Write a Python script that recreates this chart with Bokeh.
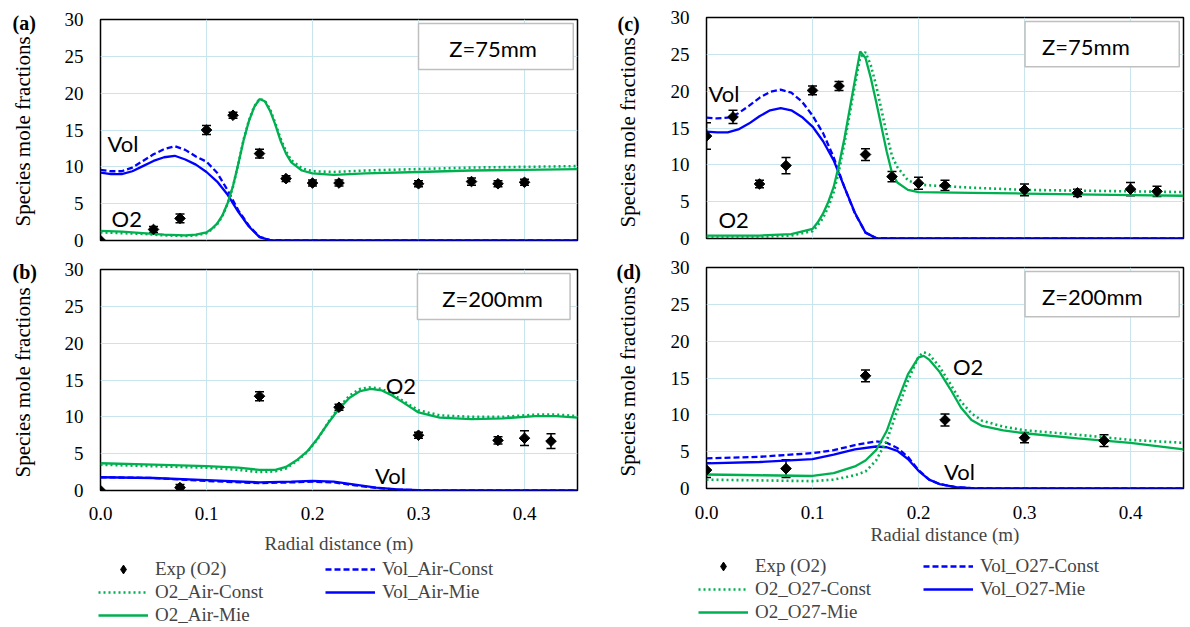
import numpy as np
from bokeh.plotting import figure
from bokeh.layouts import row, column
from bokeh.models import (Range1d, FixedTicker, PrintfTickFormatter, Whisker, TeeHead,
                          ColumnDataSource, Label, BoxAnnotation, Legend, LegendItem)
from bokeh.embed import file_html
from bokeh.resources import INLINE

# ---------------- data ----------------
x_ticks = [0.0, 0.1, 0.2, 0.3, 0.4]
y_ticks = [0, 5, 10, 15, 20, 25, 30]

# Panel (a)  Air, Z=75mm
a_x_vol = [0, 0.01, 0.02, 0.03, 0.04, 0.05, 0.06, 0.07, 0.08, 0.09, 0.10, 0.11, 0.12, 0.13, 0.14, 0.15, 0.16, 0.20, 0.30, 0.45]
a_vol_const = [9.6, 9.4, 9.4, 9.9, 10.8, 11.7, 12.4, 12.8, 12.3, 11.4, 10.7, 9.2, 6.8, 4.1, 2.0, 0.5, 0.05, 0, 0, 0]
a_vol_mie = [9.2, 9.0, 9.0, 9.4, 10.1, 10.8, 11.3, 11.5, 11.0, 10.3, 9.3, 8.0, 6.2, 3.9, 1.9, 0.45, 0.05, 0, 0, 0]
a_x_o2 = [0, 0.02, 0.04, 0.06, 0.08, 0.09, 0.10, 0.105, 0.11, 0.115, 0.12, 0.125, 0.13, 0.135, 0.14, 0.145,
          0.15, 0.155, 0.16, 0.165, 0.17, 0.175, 0.18, 0.19, 0.20, 0.22, 0.25, 0.30, 0.35, 0.40, 0.45]
a_o2_mie = [1.3, 1.2, 1.0, 0.8, 0.7, 0.8, 1.1, 1.6, 2.3, 3.4, 5.1, 7.4, 10.4, 13.6, 16.2, 18.1,
            19.2, 18.9, 17.6, 15.7, 13.5, 11.8, 10.6, 9.5, 9.1, 8.9, 9.1, 9.3, 9.5, 9.6, 9.7]
a_o2_const = [1.1, 1.0, 0.9, 0.7, 0.6, 0.7, 1.0, 1.5, 2.2, 3.3, 5.0, 7.3, 10.4, 13.7, 16.3, 18.2,
              19.2, 19.0, 17.8, 15.9, 13.8, 12.1, 10.9, 9.8, 9.4, 9.3, 9.5, 9.7, 9.9, 10.0, 10.1]
a_exp_x = [0, 0.05, 0.075, 0.1, 0.125, 0.15, 0.175, 0.2, 0.225, 0.3, 0.35, 0.375, 0.4]
a_exp_y = [0, 1.5, 3.0, 15.0, 17.0, 11.8, 8.4, 7.8, 7.8, 7.7, 8.0, 7.7, 7.9]
a_exp_err = [0, 0.4, 0.6, 0.6, 0.4, 0.6, 0.4, 0.4, 0.4, 0.4, 0.5, 0.4, 0.4]

# Panel (b)  Air, Z=200mm
b_x_o2 = [0, 0.05, 0.10, 0.13, 0.15, 0.165, 0.175, 0.185, 0.195, 0.205, 0.215, 0.225, 0.235, 0.245,
          0.255, 0.265, 0.275, 0.285, 0.30, 0.32, 0.35, 0.38, 0.41, 0.43, 0.45]
b_o2_mie = [3.7, 3.5, 3.3, 3.1, 2.8, 2.8, 3.2, 4.1, 5.3, 7.1, 9.2, 11.1, 12.6, 13.5,
            13.8, 13.6, 12.9, 12.0, 10.6, 9.9, 9.7, 9.8, 10.1, 10.1, 9.9]
b_o2_const = [3.5, 3.3, 3.1, 2.8, 2.5, 2.6, 3.0, 4.0, 5.2, 7.0, 9.3, 11.3, 12.9, 13.8,
              14.0, 13.8, 13.1, 12.2, 10.9, 10.2, 10.0, 10.0, 10.3, 10.3, 10.1]
b_x_vol = [0, 0.05, 0.10, 0.15, 0.18, 0.20, 0.22, 0.24, 0.26, 0.28, 0.30, 0.35, 0.45]
b_vol_mie = [1.8, 1.7, 1.4, 1.1, 1.2, 1.3, 1.2, 0.8, 0.4, 0.15, 0.05, 0, 0]
b_vol_const = [1.8, 1.7, 1.3, 1.0, 1.1, 1.2, 1.1, 0.7, 0.35, 0.12, 0.04, 0, 0]
b_exp_x = [0, 0.075, 0.15, 0.225, 0.3, 0.375, 0.4, 0.425]
b_exp_y = [0, 0.4, 12.8, 11.3, 7.5, 6.8, 7.1, 6.7]
b_exp_err = [0, 0.4, 0.6, 0.4, 0.4, 0.5, 1.0, 1.0]

# Panel (c)  O27, Z=75mm
c_x_vol = [0, 0.01, 0.02, 0.03, 0.04, 0.05, 0.06, 0.07, 0.08, 0.09, 0.10, 0.11, 0.12, 0.13, 0.14, 0.15, 0.16, 0.20, 0.45]
c_vol_mie = [14.5, 14.4, 14.4, 14.8, 15.6, 16.6, 17.4, 17.7, 17.4, 16.5, 15.2, 13.2, 10.6, 7.0, 3.5, 0.8, 0.05, 0, 0]
c_vol_const = [16.4, 16.3, 16.4, 17.0, 18.0, 19.1, 19.9, 20.2, 19.8, 18.6, 16.7, 14.3, 11.0, 7.0, 3.4, 0.8, 0.05, 0, 0]
c_x_o2 = [0, 0.05, 0.08, 0.10, 0.105, 0.11, 0.115, 0.12, 0.125, 0.13, 0.135, 0.14, 0.145, 0.15,
          0.155, 0.16, 0.165, 0.17, 0.175, 0.18, 0.19, 0.20, 0.25, 0.30, 0.35, 0.40, 0.45]
c_o2_mie = [0.4, 0.4, 0.6, 1.3, 2.2, 3.4, 5.0, 7.0, 10.0, 13.5, 17.5, 21.5, 25.4, 24.5,
            21.8, 18.6, 15.2, 11.8, 8.9, 7.6, 6.6, 6.3, 6.2, 6.1, 6.0, 5.9, 5.8]
c_o2_const = [0.2, 0.2, 0.4, 1.0, 1.8, 2.8, 4.3, 6.3, 9.2, 12.8, 16.8, 20.8, 24.6, 25.3,
              23.5, 20.8, 17.5, 14.2, 11.2, 9.7, 7.9, 7.3, 6.9, 6.6, 6.5, 6.4, 6.3]
c_exp_x = [0, 0.025, 0.05, 0.075, 0.1, 0.125, 0.15, 0.175, 0.2, 0.225, 0.3, 0.35, 0.4, 0.425]
c_exp_y = [13.9, 16.5, 7.4, 9.9, 20.1, 20.7, 11.4, 8.4, 7.5, 7.2, 6.6, 6.2, 6.7, 6.4]
c_exp_err = [1.8, 0.9, 0.5, 1.1, 0.6, 0.6, 0.8, 0.7, 0.8, 0.7, 0.8, 0.5, 0.9, 0.7]

# Panel (d)  O27, Z=200mm
d_x_vol = [0, 0.05, 0.10, 0.12, 0.14, 0.16, 0.17, 0.18, 0.19, 0.20, 0.21, 0.22, 0.235, 0.25, 0.30, 0.45]
d_vol_mie = [3.4, 3.6, 4.0, 4.6, 5.3, 5.7, 5.6, 5.1, 4.0, 2.4, 1.2, 0.6, 0.2, 0.05, 0, 0]
d_vol_const = [4.1, 4.3, 4.8, 5.2, 5.9, 6.4, 6.2, 5.5, 4.3, 2.5, 1.2, 0.6, 0.2, 0.05, 0, 0]
d_x_o2 = [0, 0.05, 0.10, 0.12, 0.14, 0.15, 0.16, 0.17, 0.18, 0.19, 0.20, 0.205, 0.21, 0.22, 0.23,
          0.24, 0.25, 0.26, 0.28, 0.30, 0.35, 0.40, 0.45]
d_o2_mie = [1.9, 1.8, 1.7, 2.1, 3.0, 3.8, 5.2, 7.8, 11.8, 15.5, 17.8, 18.0, 17.5, 15.8, 13.5,
            11.0, 9.3, 8.5, 7.9, 7.5, 6.8, 6.2, 5.3]
d_o2_const = [1.2, 1.1, 1.0, 1.2, 1.8, 2.3, 3.8, 6.5, 10.6, 14.6, 17.9, 18.5, 18.2, 16.5, 14.2,
              11.8, 10.2, 9.2, 8.4, 7.9, 7.3, 6.6, 6.2]
d_exp_x = [0, 0.075, 0.15, 0.225, 0.3, 0.375]
d_exp_y = [2.5, 2.7, 15.3, 9.3, 6.9, 6.5]
d_exp_err = [1.0, 1.2, 0.8, 0.8, 0.7, 0.8]

left_names = ["Exp (O2)", "Vol_Air-Const", "O2_Air-Const", "Vol_Air-Mie", "O2_Air-Mie"]
right_names = ["Exp (O2)", "Vol_O27-Const", "O2_O27-Const", "Vol_O27-Mie", "O2_O27-Mie"]
y_title = "Species mole fractions"
x_title = "Radial distance (m)"

# ---------------- style ----------------
SERIF = "Liberation Serif"
SANS = "Lato"
GREEN = "#00b050"
BLUE = "#0000ff"
GRID = "#c8e4ed"
LW = 2.3
VC = dict(line_color=BLUE, line_width=LW, line_dash="6 3")
VM = dict(line_color=BLUE, line_width=LW)
OC = dict(line_color=GREEN, line_width=LW + 0.3, line_dash="2 3")
OM = dict(line_color=GREEN, line_width=LW)
EXP = dict(marker="square", angle=np.pi / 4, size=7.5, fill_color="black", line_color="black")
EXP_LEG = dict(marker="diamond", size=11, fill_color="black", line_color="black")


def blank_fig(w, h):
    p = figure(width=w, height=h, x_range=Range1d(0, w), y_range=Range1d(0, h), title=None,
               output_backend="svg", toolbar_location=None,
               x_axis_location=None, y_axis_location=None, frame_align=False,
               min_border_left=0, min_border_right=0, min_border_top=0, min_border_bottom=0)
    p.outline_line_color = None
    p.grid.visible = False
    p.background_fill_color = "white"
    p.border_fill_color = "white"
    return p


def make_panel(w, h, bl, br, bt, bb, show_x, tick_standoff=14, xlab_standoff=10):
    p = figure(width=w, height=h, x_range=Range1d(0, 0.45), y_range=Range1d(0, 30), title=None,
               output_backend="svg", toolbar_location=None, frame_align=False,
               x_axis_location="below" if show_x else None,
               min_border_left=bl, min_border_right=br, min_border_top=bt, min_border_bottom=bb)
    p.outline_line_color = "black"
    p.outline_line_width = 1.5
    p.background_fill_color = "white"
    p.border_fill_color = "white"
    p.xgrid.ticker = FixedTicker(ticks=[0.1, 0.2, 0.3, 0.4])
    p.ygrid.ticker = FixedTicker(ticks=[5, 10, 15, 20, 25])
    for g in (p.xgrid, p.ygrid):
        g.grid_line_color = GRID
        g.grid_line_width = 1
    ya = p.yaxis[0]
    ya.ticker = FixedTicker(ticks=y_ticks)
    ya.major_label_text_font = SERIF
    ya.major_label_text_font_size = "19px"
    ya.major_label_standoff = 17
    ya.major_tick_out = 0
    ya.major_tick_in = 0
    ya.minor_tick_out = 0
    ya.minor_tick_in = 0
    ya.axis_line_color = None
    ya.major_label_text_color = "black"
    if show_x:
        xa = p.xaxis[0]
        xa.ticker = FixedTicker(ticks=x_ticks)
        xa.formatter = PrintfTickFormatter(format="%.1f")
        xa.axis_label = x_title
        xa.axis_label_text_font = SERIF
        xa.axis_label_text_font_style = "normal"
        xa.axis_label_text_font_size = "19px"
        xa.axis_label_standoff = xlab_standoff
        xa.major_label_text_font = SERIF
        xa.major_label_text_font_size = "19px"
        xa.major_label_standoff = tick_standoff
        xa.major_tick_out = 0
        xa.major_tick_in = 0
        xa.minor_tick_out = 0
        xa.minor_tick_in = 0
        xa.axis_line_color = None
        xa.major_label_text_color = "black"
    return p


def add_series(p, xv, vconst, vmie, xo, oconst, omie, ex, ey, ee):
    p.line(xv, vconst, **VC)
    p.line(xv, vmie, **VM)
    p.line(xo, oconst, **OC)
    p.line(xo, omie, **OM)
    keep = [i for i, e in enumerate(ee) if e > 0]
    src = ColumnDataSource(dict(x=[ex[i] for i in keep],
                                lo=[ey[i] - ee[i] for i in keep],
                                hi=[ey[i] + ee[i] for i in keep]))
    wk = Whisker(source=src, base="x", lower="lo", upper="hi", line_color="black", line_width=1.5,
                 upper_head=TeeHead(size=9, line_color="black", line_width=1.5),
                 lower_head=TeeHead(size=9, line_color="black", line_width=1.5))
    p.add_layout(wk)
    p.scatter(ex, ey, **EXP)


def add_text(p, x, y, txt, size="22px", font=SANS, style="normal", angle=0.0, align="left"):
    p.add_layout(Label(x=x, y=y, text=txt, text_font=font, text_font_size=size,
                       text_font_style=style, text_baseline="middle", text_align=align,
                       text_color="black", angle=angle))


def add_zbox(p, l, r, b, t, tx, ty, txt):
    p.add_layout(BoxAnnotation(left=l, right=r, bottom=b, top=t, fill_color="white", fill_alpha=1,
                               line_color="#bfbfbf", line_width=1.5, line_alpha=1))
    add_text(p, tx, ty, txt)


def label_column(w, h, tag, tag_x, tag_y, title_x, title_y):
    p = blank_fig(w, h)
    add_text(p, tag_x, tag_y, tag, size="20px", font=SERIF, style="bold")
    add_text(p, title_x, title_y, y_title, size="21px", font=SERIF, angle=np.pi / 2, align="center")
    return p


def legend_fig(w, h, names, series, x1, y1, x2, y2):
    # invisible copies of a panel's series provide the legend glyphs
    p = blank_fig(w, h)
    xv, vconst, vmie, xo, oconst, omie, ex, ey = series
    r_ex = p.scatter(ex, ey, visible=False, **EXP_LEG)
    r_vc = p.line(xv, vconst, visible=False, **VC)
    r_oc = p.line(xo, oconst, visible=False, **OC)
    r_vm = p.line(xv, vmie, visible=False, **VM)
    r_om = p.line(xo, omie, visible=False, **OM)
    common = dict(padding=0, spacing=1, margin=0, glyph_width=50, glyph_height=22, label_height=22,
                  label_standoff=7, label_text_font=SERIF, label_text_font_size="19px",
                  border_line_color=None, background_fill_alpha=0, inactive_fill_alpha=0)
    lg1 = Legend(items=[LegendItem(label=names[0], renderers=[r_ex]),
                        LegendItem(label=names[2], renderers=[r_oc]),
                        LegendItem(label=names[4], renderers=[r_om])],
                 location=(x1, y1), **common)
    lg2 = Legend(items=[LegendItem(label=names[1], renderers=[r_vc]),
                        LegendItem(label=names[3], renderers=[r_vm])],
                 location=(x2, y2), **common)
    p.add_layout(lg1)
    p.add_layout(lg2)
    return p


# ---------------- left column ----------------
pa = make_panel(558, 254, 54, 27, 19, 14, False)
add_series(pa, a_x_vol, a_vol_const, a_vol_mie, a_x_o2, a_o2_const, a_o2_mie, a_exp_x, a_exp_y, a_exp_err)
add_zbox(pa, 0.300, 0.446, 23.2, 29.45, 0.329, 26.05, "Z=75mm")
add_text(pa, 0.0066, 13.2, "Vol")
add_text(pa, 0.0104, 3.0, "O2")
la = label_column(46, 254, "(a)", 12, 232, 22, 123)

pb = make_panel(558, 304, 54, 27, 15, 68, True, 16, 10)
add_series(pb, b_x_vol, b_vol_const, b_vol_mie, b_x_o2, b_o2_const, b_o2_mie, b_exp_x, b_exp_y, b_exp_err)
add_zbox(pb, 0.299, 0.443, 23.2, 29.45, 0.3225, 26.05, "Z=200mm")
add_text(pb, 0.269, 14.2, "O2")
add_text(pb, 0.259, 2.0, "Vol")
lb = label_column(46, 304, "(b)", 12, 287, 22, 176)

leg_l = legend_fig(604, 69, left_names,
                   (b_x_vol, b_vol_const, b_vol_mie, b_x_o2, b_o2_const, b_o2_mie, b_exp_x, b_exp_y),
                   98, 1, 325, 24)

# ---------------- right column ----------------
pc = make_panel(540, 254, 56, 7, 17, 16, False)
add_series(pc, c_x_vol, c_vol_const, c_vol_mie, c_x_o2, c_o2_const, c_o2_mie, c_exp_x, c_exp_y, c_exp_err)
add_zbox(pc, 0.3005, 0.446, 23.3, 29.45, 0.3166, 26.0, "Z=75mm")
add_text(pc, 0.002, 19.7, "Vol")
add_text(pc, 0.0113, 2.6, "O2")
lc = label_column(46, 254, "(c)", 13, 231, 23, 122)

pd_ = make_panel(540, 301, 56, 7, 13, 67, True, 17, 2)
add_series(pd_, d_x_vol, d_vol_const, d_vol_mie, d_x_o2, d_o2_const, d_o2_mie, d_exp_x, d_exp_y, d_exp_err)
add_zbox(pd_, 0.3005, 0.446, 23.3, 29.45, 0.3166, 26.1, "Z=200mm")
add_text(pd_, 0.2325, 16.6, "O2")
add_text(pd_, 0.224, 2.3, "Vol")
ld = label_column(46, 301, "(d)", 12, 284, 23, 174)

leg_r = legend_fig(586, 72, right_names,
                   (d_x_vol, d_vol_const, d_vol_mie, d_x_o2, d_o2_const, d_o2_mie, d_exp_x, d_exp_y),
                   94, 4, 319, 27)

layout = row(column(row(la, pa), row(lb, pb), leg_l),
             column(row(lc, pc), row(ld, pd_), leg_r))
open("out.html", "w").write(file_html(layout, INLINE))
